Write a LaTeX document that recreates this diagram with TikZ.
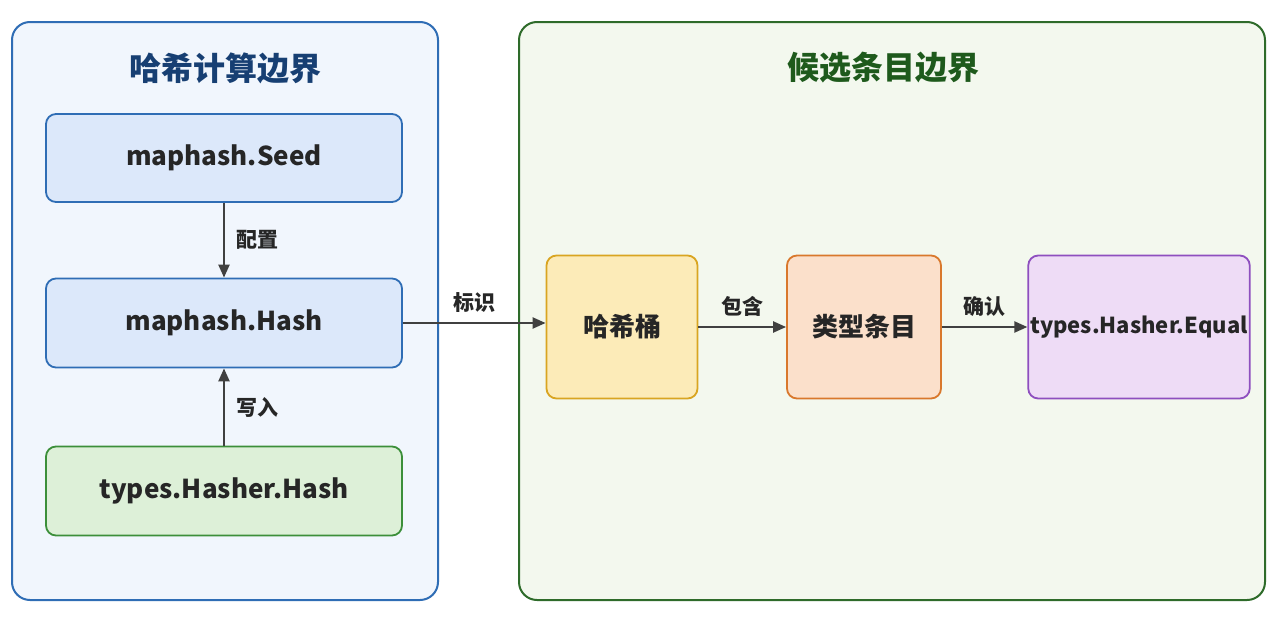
\documentclass[tikz,border=0pt]{standalone}
\usepackage{fontspec}
\setmainfont{Noto Sans CJK SC}
\usetikzlibrary{arrows.meta}
\definecolor{bluebd}{HTML}{2F6DB5}
\definecolor{bluebg}{HTML}{F1F6FD}
\definecolor{bluebox}{HTML}{DCE8FA}
\definecolor{greenbd}{HTML}{2E6B2A}
\definecolor{greenbg}{HTML}{F3F8EE}
\definecolor{greenbox}{HTML}{DDF0D8}
\definecolor{greenbx}{HTML}{3C8F3A}
\definecolor{yelbd}{HTML}{D9A521}
\definecolor{yelbg}{HTML}{FCEBB8}
\definecolor{orabd}{HTML}{D9782C}
\definecolor{orabg}{HTML}{FBE0CB}
\definecolor{purbd}{HTML}{8E4FBF}
\definecolor{purbg}{HTML}{EEDCF6}
\definecolor{titleblue}{HTML}{173F73}
\definecolor{titlegreen}{HTML}{1E5A1C}
\tikzset{
  group/.style={rounded corners=18pt, line width=2pt},
  box/.style={rounded corners=10pt, line width=1.8pt, inner sep=2pt, font=\fontsize{26}{30}\selectfont\bfseries, text=black!85},
  arr/.style={-{Triangle[length=13pt,width=11pt]}, line width=2.2pt, draw=black!75},
  lbl/.style={font=\fontsize{21}{25}\selectfont\bfseries, text=black!85}
}
\begin{document}
\begin{tikzpicture}[x=1pt,y=-1pt]
\useasboundingbox (0,0) rectangle (1280,640);
% groups
\draw[group, draw=bluebd, fill=bluebg] (12,22) rectangle (438,600);
\draw[group, draw=greenbd, fill=greenbg] (519,22) rectangle (1265,600);
\node[font=\fontsize{32}{36}\selectfont\bfseries, text=titleblue] (lt) at (225,68) {哈希计算边界};
\node[font=\fontsize{32}{36}\selectfont\bfseries, text=titlegreen] (rt) at (883,68) {候选条目边界};
% nodes
\node[box, draw=bluebd, fill=bluebox, minimum width=356pt, minimum height=88pt] (seed) at (224,158) {maphash.Seed};
\node[box, draw=bluebd, fill=bluebox, minimum width=356pt, minimum height=89pt] (hash) at (224,323) {maphash.Hash};
\node[box, draw=greenbx, fill=greenbox, minimum width=356pt, minimum height=89pt] (hh) at (224,491) {types.Hasher.Hash};
\node[box, draw=yelbd, fill=yelbg, minimum width=151pt, minimum height=143pt] (bucket) at (622,327) {哈希桶};
\node[box, draw=orabd, fill=orabg, minimum width=154pt, minimum height=143pt] (entry) at (864,327) {类型条目};
\node[box, draw=purbd, fill=purbg, minimum width=218pt, minimum height=143pt, font=\fontsize{22}{26}\selectfont\bfseries] (eq) at (1139,327) {types.Hasher.Equal};
% edges
\draw[arr] (seed) -- node[lbl, right=8pt] {配置} (hash);
\draw[arr] (hh) -- node[lbl, right=8pt] {写入} (hash);
\draw[arr] (hash.east) -- node[lbl, above=6pt] {标识} (bucket.west |- hash.east);
\draw[arr] (bucket) -- node[lbl, above=6pt] {包含} (entry);
\draw[arr] (entry) -- node[lbl, above=6pt] {确认} (eq);
\end{tikzpicture}
\end{document}
